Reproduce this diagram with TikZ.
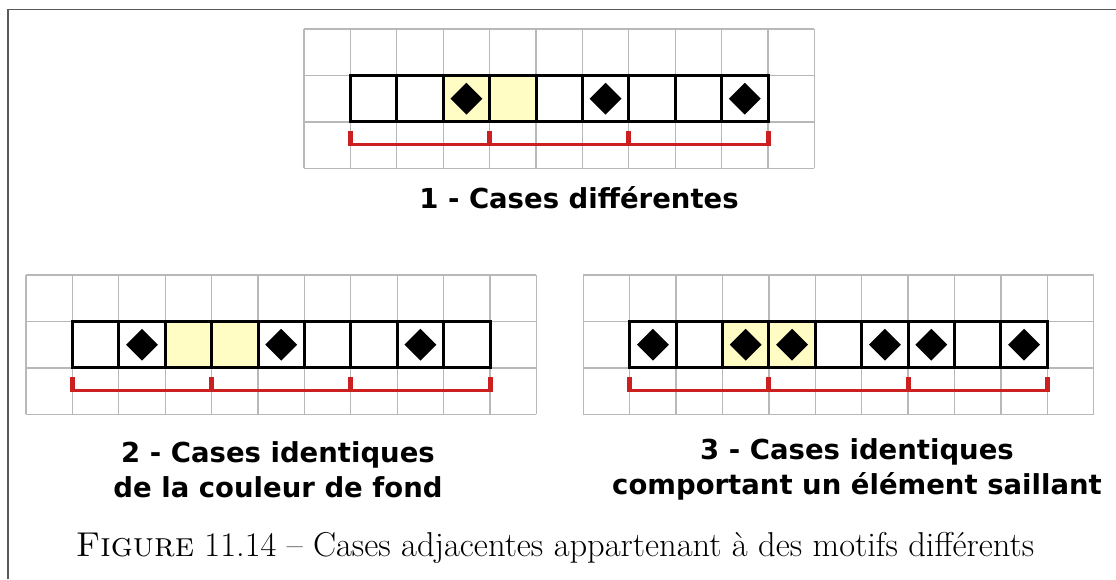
\documentclass[tikz,border=0pt]{standalone}
\usepackage{fontspec}
\usepackage{tikz}
\usetikzlibrary{shapes.geometric}
\newfontfamily\dejavu{DejaVu Sans}
\definecolor{jaune}{HTML}{FFFDC4}
\definecolor{rouge}{HTML}{CC2020}
\definecolor{trait}{HTML}{B8B8B8}
\def\taille{46.4}
\tikzset{
  grille/.style={draw=trait, line width=1.3pt},
  case/.style={draw=black, line width=3pt},
  gem/.style={diamond, fill=black, minimum size=32pt, inner sep=0pt},
  crochet/.style={draw=rouge, line width=3pt},
  titre/.style={font=\dejavu\bfseries\fontsize{27.5}{35}\selectfont, align=center},
  pics/motif/.style={code={
    % cases de couleur de fond
    \foreach \k in {3,4} \fill[jaune] (\k*\taille,\taille) rectangle ++(\taille,\taille);
    % grille de fond
    \foreach \i in {0,...,11} \draw[grille] (\i*\taille,0) -- (\i*\taille,3*\taille);
    \foreach \j in {0,...,3} \draw[grille] (0,\j*\taille) -- (11*\taille,\j*\taille);
    % rangee de cases
    \draw[case] (\taille,\taille) rectangle (10*\taille,2*\taille);
    \foreach \k in {2,...,9} \draw[case] (\k*\taille,\taille) -- (\k*\taille,2*\taille);
    % elements saillants
    \foreach \k in {#1} \node[gem] (d\k) at (\k*\taille+0.5*\taille,1.5*\taille) {};
    % decoupage en motifs
    \draw[crochet] (\taille-2.5,0.52*\taille) -- (10*\taille+2.5,0.52*\taille);
    \foreach \k in {1,4,7,10} \fill[rouge] (\k*\taille-2.5,0.52*\taille-1.5) rectangle ++(5,15);
  }},
}

\begin{document}
\begin{tikzpicture}[x=1pt, y=1pt]
  \useasboundingbox (0,0) rectangle (1116,579);
  \fill[white] (0,0) rectangle (1116,579);
  % cadre
  \draw[draw=black!65, line width=1.5pt] (8,0) -- (8,569.5) -- (1116,569.5);

  \pic (p1) at (304,410.7) {motif={3,6,9}};
  \pic (p2) at (26,164.7) {motif={2,5,8}};
  \pic (p3) at (583.3,164.7) {motif={1,3,4,6,7,9}};

  \node[titre] (t1) at (579,381) {1 - Cases différentes};
  \node[titre] (t2) at (278,109.5) {2 - Cases identiques\\de la couleur de fond};
  \node[titre] (t3) at (857,109.5) {3 - Cases identiques\\comportant un élément saillant};

  \node[font=\fontsize{34.5}{40}\selectfont] (leg) at (555,31) {\textsc{Figure} 11.14 -- Cases adjacentes appartenant à des motifs différents};
\end{tikzpicture}
\end{document}
